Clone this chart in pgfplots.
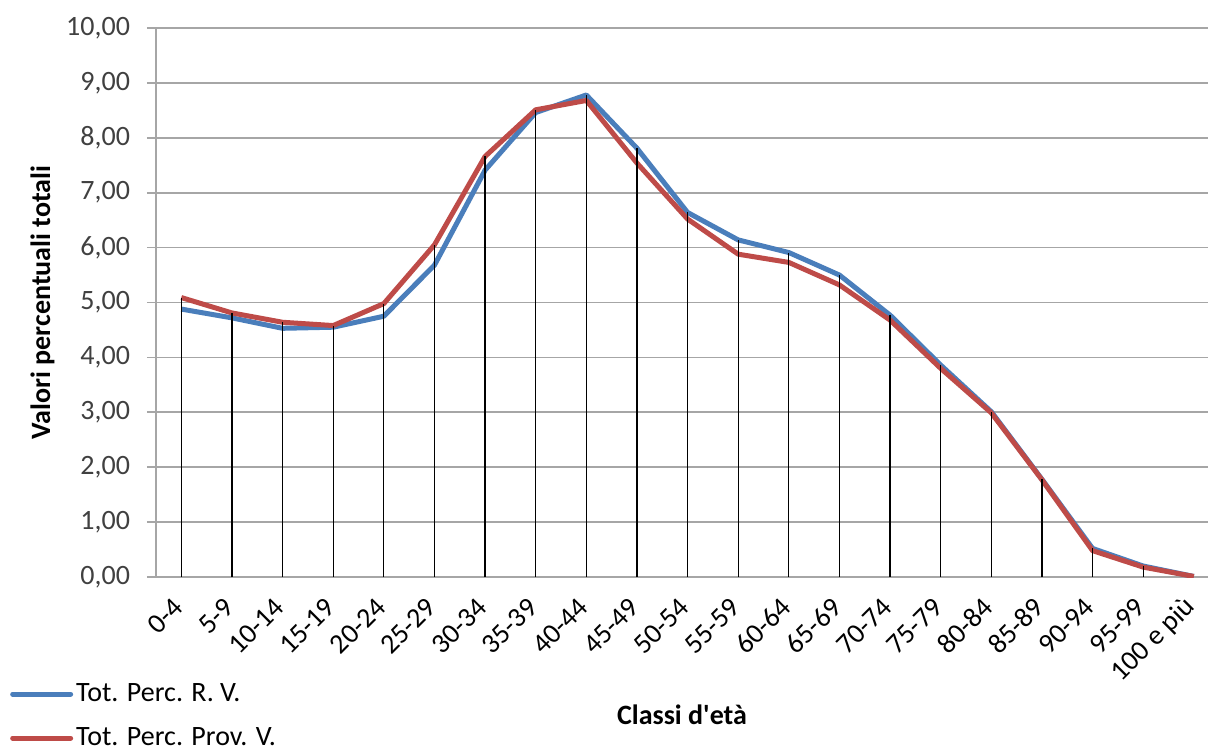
\documentclass[border=0pt]{standalone}
\usepackage{fontspec}
\setmainfont{Carlito}
\usepackage{pgfplots}
\pgfplotsset{compat=1.18}
\definecolor{xlblue}{HTML}{4A7EBB}
\definecolor{xlred}{HTML}{BE4B48}
\definecolor{gridgray}{HTML}{A6A6A6}
\definecolor{labgray}{HTML}{404040}

\begin{document}
\begin{tikzpicture}
\begin{axis}[
  at={(0,0)}, anchor=south west,
  width=526pt, height=274.5pt, scale only axis,
  xmin=-0.5, xmax=20.28, ymin=0, ymax=10,
  axis lines*=left,
  axis line style={gridgray, line width=0.9pt},
  ytick={0,1,...,10},
  xtick={0,...,20},
  xticklabels={0-4,5-9,10-14,15-19,20-24,25-29,30-34,35-39,40-44,45-49,50-54,55-59,60-64,65-69,70-74,75-79,80-84,85-89,90-94,95-99,100 e più},
  ymajorgrids, grid style={gridgray, line width=0.9pt},
  tick align=outside, major tick length=4.5pt,
  xtick style={draw=none},
  ytick style={gridgray, line width=0.9pt},
  /pgf/number format/.cd, fixed, fixed zerofill, precision=2, use comma, assume math mode=true,
  /pgfplots/.cd,
  yticklabel style={font=\fontsize{14}{16}\selectfont, text=labgray, xshift=-5pt},
  xticklabel style={yshift=-6pt, xshift=1pt, rotate=45, anchor=east, font=\fontsize{14}{16}\selectfont, text=black},
  xlabel={Classi d\textquotesingle età},
  xlabel style={at={(axis description cs:0.5,-0.251)}, anchor=center, font=\bfseries\fontsize{14}{16}\selectfont},
  ylabel={Valori percentuali totali},
  ylabel style={at={(axis description cs:-0.108,0.5)}, anchor=center, font=\bfseries\fontsize{14}{16}\selectfont},
  legend style={at={(axis description cs:-0.139,-0.188)}, anchor=north west, draw=none, fill=none,
    font=\fontsize{14}{16}\selectfont, row sep=8.5pt, inner sep=0pt, nodes={inner sep=1.5pt}},
  legend cell align=left,
  legend image code/.code={\draw[#1, line cap=round] (0pt,0pt) -- (29pt,0pt);},
]
\addplot[xlblue, line width=2.5pt, line join=round] coordinates {
 (0,4.88) (1,4.72) (2,4.53) (3,4.55) (4,4.75) (5,5.68) (6,7.41) (7,8.46) (8,8.78) (9,7.81)
 (10,6.64) (11,6.14) (12,5.91) (13,5.50) (14,4.77) (15,3.86) (16,3.01) (17,1.78) (18,0.52) (19,0.20) (20,0.01)};
\addlegendentry{Tot. Perc. R. V.}
\addplot[xlred, line width=2.5pt, line join=round] coordinates {
 (0,5.09) (1,4.81) (2,4.64) (3,4.58) (4,4.98) (5,6.05) (6,7.66) (7,8.51) (8,8.68) (9,7.54)
 (10,6.52) (11,5.88) (12,5.73) (13,5.32) (14,4.68) (15,3.80) (16,2.99) (17,1.77) (18,0.48) (19,0.18) (20,0.01)};
\addlegendentry{Tot. Perc. Prov. V.}
\addplot[ycomb, black, line width=0.65pt, forget plot] coordinates {
 (0,5.09) (1,4.81) (2,4.64) (3,4.58) (4,4.98) (5,6.05) (6,7.66) (7,8.51) (8,8.78) (9,7.81)
 (10,6.64) (11,6.14) (12,5.91) (13,5.50) (14,4.77) (15,3.86) (16,3.01) (17,1.78) (18,0.52) (19,0.20)};
\end{axis}
\pgfresetboundingbox
\path (-78pt,-86pt) rectangle (526pt,288.5pt);
\end{tikzpicture}
\end{document}
